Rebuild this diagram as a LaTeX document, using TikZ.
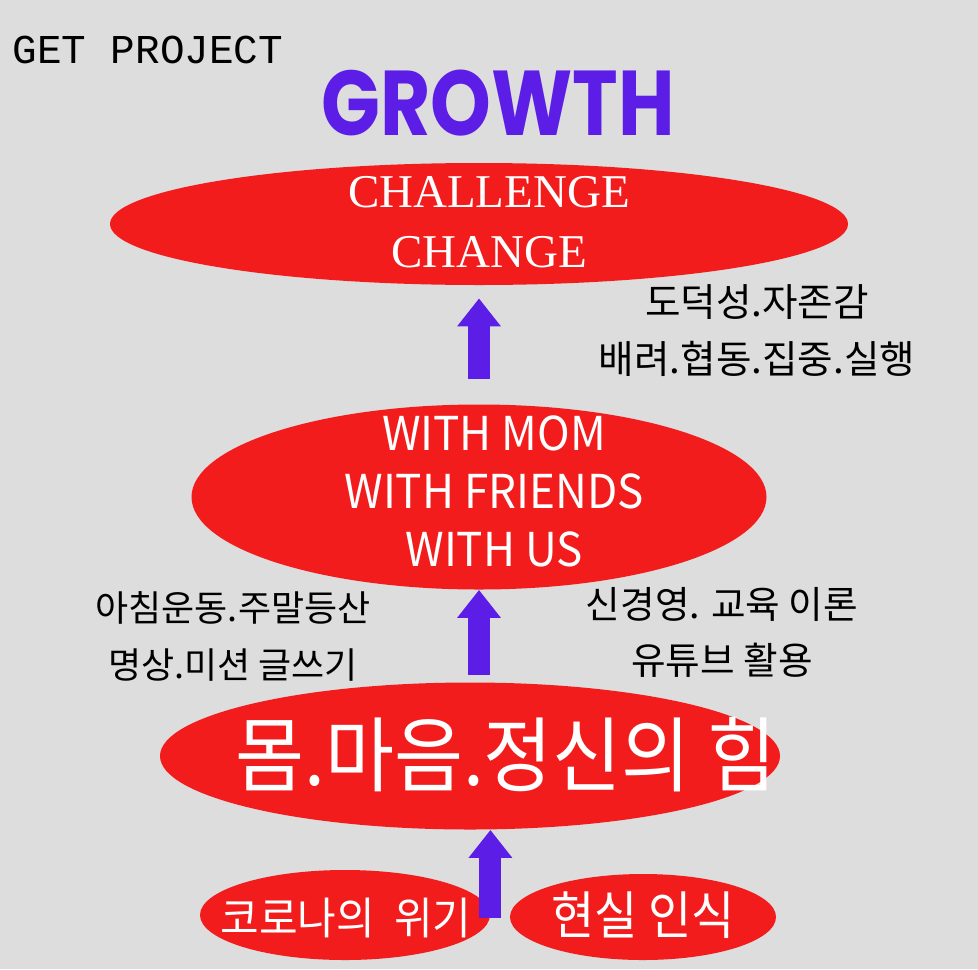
\documentclass[tikz,border=0pt]{standalone}
\usepackage{fontspec}
\setmainfont{Noto Sans CJK KR}
\newfontfamily\serifface{Liberation Serif}
\newfontfamily\monoface{Liberation Mono}
\newfontfamily\titleface{Poppins}
\usetikzlibrary{shapes.geometric, arrows.meta, positioning}
\definecolor{blobred}{RGB}{242,28,28}
\definecolor{growpurple}{RGB}{92,30,230}
\definecolor{paper}{RGB}{221,221,221}

\begin{document}
\begin{tikzpicture}[
        x=0.5pt, y=-0.5pt,
        blob/.style={ellipse, fill=blobred, inner sep=0pt},
        inside/.style={text=white, align=center, inner sep=0pt},
        note/.style={align=center, inner sep=0pt, font=\fontsize{18}{28.5}\selectfont},
        up/.style={line width=11pt, draw=growpurple, -{Triangle[width=21pt, length=14pt, fill=growpurple]}}
    ]
        % Background
        \fill[paper] (0,0) rectangle (978,969);

        % Titles
        \node[anchor=west, inner sep=0pt, font=\monoface\fontsize{20.5}{22}\selectfont] (project) at (12,50) {GET PROJECT};
        \node[inner sep=0pt, text=growpurple, font=\titleface\bfseries\fontsize{46}{50}\selectfont] (growth) at (498,103) {\scalebox{0.84}[1]{GROWTH}};

        % Goal
        \node[blob, minimum width=369pt, minimum height=61pt] (challenge) at (479,224) {};
        \node[inside, font=\serifface\fontsize{23.5}{30}\selectfont] (challengetext) at (489,222) {CHALLENGE\\CHANGE};

        % Together
        \node[blob, minimum width=287.5pt, minimum height=92.5pt] (with) at (479,497) {};
        \node[inside, font=\fontsize{22}{29}\selectfont] (withtext) at (494,491) {\scalebox{1}[1.06]{WITH MOM}\\\scalebox{1}[1.06]{WITH FRIENDS}\\\scalebox{1}[1.06]{WITH US}};

        % Power
        \node[blob, minimum width=310pt, minimum height=73.5pt] (mind) at (470,756) {};
        \node[inside, font=\fontsize{37.5}{39}\selectfont] (mindtext) at (506,755) {\scalebox{1}[1.09]{몸.마음.정신의 힘}};

        % Start
        \node[blob, minimum width=145pt, minimum height=45pt] (crisis) at (345,915) {};
        \node[inside, font=\fontsize{21}{22}\selectfont] (crisistext) at (346,918) {\scalebox{1}[1.05]{코로나의\ \ 위기}};
        \node[blob, minimum width=133pt, minimum height=43pt] (reality) at (643,917) {};
        \node[inside, font=\fontsize{23.5}{25}\selectfont] (realitytext) at (643,915) {\scalebox{1}[1.1]{현실 인식}};

        % Side notes
        \node[note, font=\fontsize{19.3}{28.5}\selectfont] (values) at (757,331) {도덕성.자존감\\배려.협동.집중.실행};
        \node[note] (habits) at (233,636) {아침운동.주말등산\\명상.미션 글쓰기};
        \node[note, font=\fontsize{18.8}{28}\selectfont] (study) at (722,632) {신경영. 교육 이론\\유튜브 활용};

        % Arrows
        \draw[up, shorten <=12.5pt, shorten >=6.5pt] (with.north) -- (challenge.south);
        \draw[up, shorten <=3.5pt] (with.south |- mind.north) -- (with.south);
        \draw[up, shorten <=-1.5pt] (crisis.east) -- (crisis.east |- mind.south);

    \end{tikzpicture}
\end{document}
